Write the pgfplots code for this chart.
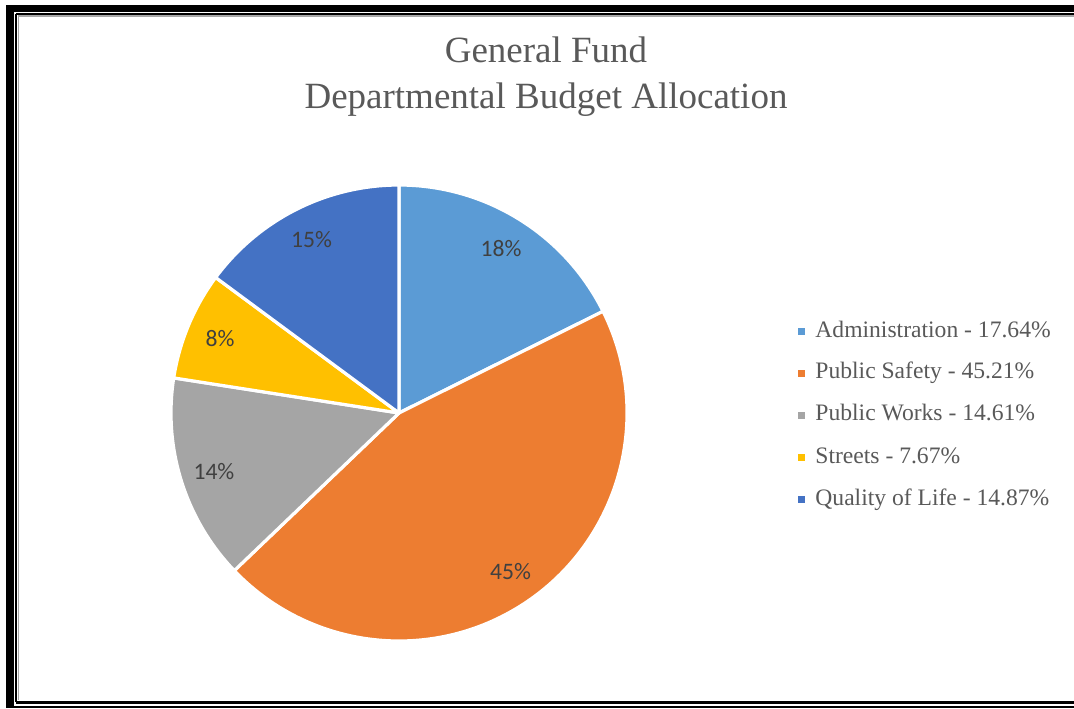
\documentclass[border=0pt]{standalone}
\usepackage{pgfplots}
\pgfplotsset{compat=1.18}
\usepackage{fontspec}
\setmainfont{Liberation Serif}
\newfontfamily\lblfont{Carlito}
\definecolor{cAdm}{HTML}{5B9BD5}
\definecolor{cPS}{HTML}{ED7D31}
\definecolor{cPW}{HTML}{A5A5A5}
\definecolor{cSt}{HTML}{FFC000}
\definecolor{cQL}{HTML}{4472C4}
\definecolor{ttl}{HTML}{595959}
\definecolor{lbl}{HTML}{404040}
% pie slice: #1 cumulative start (%), #2 value (%), #3 colour
\newcommand\pieslice[3]{%
  \fill[#3, draw=white, line width=1.6pt, line join=round]
    (axis cs:399,413) -- ++({90-3.6*#1}:114pt)
    arc[start angle={90-3.6*#1}, delta angle={-3.6*#2}, radius=114pt] -- cycle;
}
\newcommand\pielabel[3]{%
  \path (axis cs:399,413) ++({90-3.6*(#1+#2/2)}:97pt)
    node[text=lbl, font=\lblfont\fontsize{11.8}{13}\selectfont] {#3};
}
\newcommand\legentry[3]{%
  \fill[#2] (axis cs:798,#1-9) rectangle (axis cs:805,#1-2);
  \node[anchor=base west, text=ttl, inner sep=0pt,
        font=\fontsize{11.8}{13}\selectfont] at (axis cs:815,#1) {#3};
}
\begin{document}
\begin{tikzpicture}
\begin{axis}[
  width=537pt, height=354pt, scale only axis,
  xmin=0, xmax=1074, ymin=0, ymax=708, y dir=reverse,
  hide axis, clip=true,
]
% frame
\draw[black, line width=4pt] (axis cs:10,9) -- (axis cs:10,708);
\draw[black, line width=3.5pt] (axis cs:6,8.5) -- (axis cs:1074,8.5);
\draw[black, line width=0.8pt] (axis cs:6,706.8) -- (axis cs:1074,706.8);
\draw[black, line width=0.9pt] (axis cs:16,14) -- (axis cs:16,702);
\draw[black, line width=0.9pt] (axis cs:16,14) -- (axis cs:1074,14);
\draw[black, line width=1.4pt] (axis cs:16,702.5) -- (axis cs:1074,702.5);
\draw[gray!70, line width=0.6pt] (axis cs:18.2,16) -- (axis cs:18.2,700);
\draw[gray!70, line width=0.6pt] (axis cs:18.2,16) -- (axis cs:1074,16);
% slices: start, value
\pieslice{0}{17.64}{cAdm}
\pieslice{17.64}{45.21}{cPS}
\pieslice{62.85}{14.61}{cPW}
\pieslice{77.46}{7.67}{cSt}
\pieslice{85.13}{14.87}{cQL}
\pielabel{0}{17.64}{18\%}
\pielabel{17.64}{45.21}{45\%}
\pielabel{62.85}{14.61}{14\%}
\pielabel{77.46}{7.67}{8\%}
\pielabel{85.13}{14.87}{15\%}
% title
\node[anchor=base, text=ttl, font=\fontsize{18.5}{22}\selectfont] at (axis cs:546,62) {General Fund};
\node[anchor=base, text=ttl, font=\fontsize{18.5}{22}\selectfont] at (axis cs:546,108) {Departmental Budget Allocation};
% legend
\legentry{337}{cAdm}{Administration - 17.64\%}
\legentry{378.5}{cPS}{Public Safety - 45.21\%}
\legentry{420.5}{cPW}{Public Works - 14.61\%}
\legentry{463}{cSt}{Streets - 7.67\%}
\legentry{505}{cQL}{Quality of Life - 14.87\%}
\end{axis}
\pgfresetboundingbox
\useasboundingbox (current axis.south west) rectangle (current axis.north east);
\end{tikzpicture}
\end{document}
